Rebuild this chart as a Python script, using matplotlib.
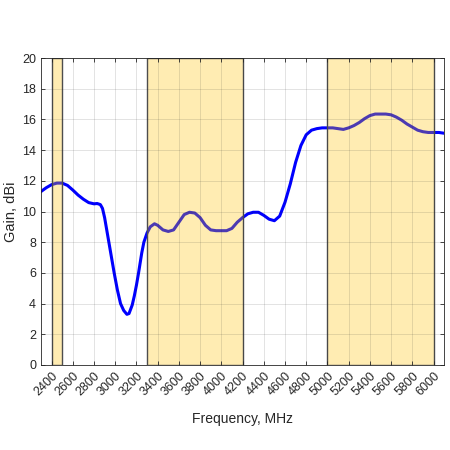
import numpy as np
import matplotlib
matplotlib.use('Agg')
import matplotlib.pyplot as plt

freq = [2300, 2350, 2400, 2450, 2500, 2550, 2600, 2650, 2700, 2750, 2800, 2830,
        2860, 2880, 2900, 2920, 2940, 2960, 2990, 3020, 3050, 3080, 3110, 3130,
        3160, 3180, 3200, 3220, 3250, 3270, 3300, 3330, 3370, 3400, 3450, 3500,
        3550, 3600, 3650, 3700, 3750, 3800, 3850, 3900, 3950, 4000, 4050, 4100,
        4150, 4200, 4250, 4300, 4350, 4400, 4450, 4500, 4550, 4600, 4650, 4700,
        4750, 4800, 4850, 4900, 4950, 5000, 5050, 5100, 5150, 5200, 5250, 5300,
        5350, 5400, 5450, 5500, 5550, 5600, 5650, 5700, 5750, 5800, 5850, 5900,
        5950, 6000, 6050, 6100]
gain = [11.3, 11.55, 11.75, 11.85, 11.85, 11.7, 11.4, 11.07, 10.8, 10.58, 10.5, 10.52,
        10.45, 10.2, 9.6, 8.8, 8.0, 7.2, 6.0, 4.9, 4.0, 3.55, 3.3, 3.35,
        3.9, 4.5, 5.2, 6.0, 7.3, 8.0, 8.6, 9.0, 9.2, 9.1, 8.8, 8.7,
        8.8, 9.3, 9.8, 9.95, 9.9, 9.6, 9.1, 8.8, 8.75, 8.75, 8.75, 8.9,
        9.3, 9.6, 9.85, 9.95, 9.95, 9.75, 9.5, 9.4, 9.7, 10.6, 11.8, 13.2,
        14.3, 15.0, 15.3, 15.4, 15.45, 15.45, 15.45, 15.4, 15.35, 15.45, 15.6, 15.8,
        16.05, 16.25, 16.35, 16.35, 16.35, 16.3, 16.15, 15.95, 15.7, 15.5, 15.3, 15.2,
        15.15, 15.15, 15.15, 15.1]

# highlighted bands, MHz
band_lo = [2400, 3300, 5000]
band_hi = [2500, 4200, 6000]

xticks = list(range(2400, 6001, 200))
yticks = list(range(0, 21, 2))

plt.rcParams['font.family'] = ['Liberation Sans', 'DejaVu Sans']

fig = plt.figure(figsize=(4.5, 4.5), dpi=100)
ax = fig.add_axes([0.091, 0.189, 0.896, 0.682])

ax.plot(freq, gain, color=(0, 0, 1), linewidth=2.2, zorder=1,
        solid_joinstyle='round')

for lo, hi in zip(band_lo, band_hi):
    ax.axvspan(lo, hi, facecolor=(1.0, 0.76, 0.0, 0.3),
               edgecolor=(0.3, 0.3, 0.3), linewidth=1.0, zorder=2)

ax.set_xlim(2300, 6100)
ax.set_ylim(0, 20)
ax.set_xticks(xticks)
ax.set_yticks(yticks)
ax.set_xticklabels([str(t) for t in xticks], rotation=45, ha='right',
                   rotation_mode='anchor')
ax.set_axisbelow(False)
ax.grid(True, color=(0.15, 0.15, 0.15), alpha=0.15, linewidth=0.6)

ax.tick_params(direction='in', top=True, right=True, length=3,
               labelsize=9, colors='#262626', width=0.6)
for s in ax.spines.values():
    s.set_color('#262626')
    s.set_linewidth(0.6)
    s.set_zorder(3)

ax.set_xlabel('Frequency, MHz', fontsize=10, color='#262626', labelpad=10)
ax.set_ylabel('Gain, dBi', fontsize=10.5, color='#262626', labelpad=3)

fig.savefig('out.png', dpi=100)
